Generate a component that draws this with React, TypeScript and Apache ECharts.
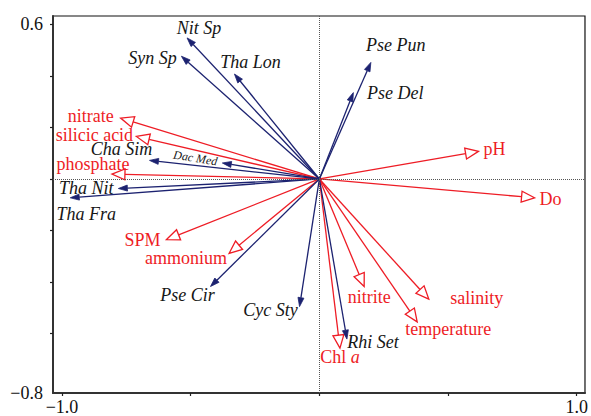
import React, { useEffect, useRef } from "react";
import * as echarts from "echarts";

// Species scores (RDA axis 1, axis 2)
const speciesNames = ["Nit Sp", "Syn Sp", "Tha Lon", "Pse Pun", "Pse Del", "Cha Sim", "Dac Med", "Tha Nit", "Tha Fra", "Pse Cir", "Cyc Sty", "Rhi Set"];
const speciesX = [-0.514, -0.536, -0.33, 0.2, 0.132, -0.66, -0.377, -0.781, -0.968, -0.423, -0.077, 0.107];
const speciesY = [0.547, 0.476, 0.407, 0.452, 0.335, 0.072, 0.062, -0.037, -0.073, -0.417, -0.495, -0.621];

// Environmental variable scores (RDA axis 1, axis 2)
const envNames = ["nitrate", "silicic acid", "phosphate", "pH", "Do", "SPM", "ammonium", "nitrite", "salinity", "temperature", "Chl a"];
const envX = [-0.772, -0.711, -0.806, 0.618, 0.836, -0.594, -0.351, 0.174, 0.425, 0.38, 0.08];
const envY = [0.236, 0.165, 0.019, 0.107, -0.073, -0.235, -0.289, -0.417, -0.466, -0.554, -0.656];

// Axis ticks
const xTicks = [-1, -0.5, 0, 0.5, 1];
const xTickLabels = [-1, 1];
const yTicks = [-0.6, -0.4, -0.2, 0, 0.2, 0.4, 0.6];
const X_MIN = -1.035;
const X_MAX = 1.032;
const Y_MIN = -0.83;
const Y_MAX = 0.632;

// Label placement: pixel offset of the label centre from the arrow tip
const speciesLabelOffset: Record<string, [number, number]> = {
  "Nit Sp": [12, -10],
  "Syn Sp": [-29, 2],
  "Tha Lon": [16, -12],
  "Pse Pun": [25, -17],
  "Pse Del": [42, 0],
  "Cha Sim": [-28, -11],
  "Dac Med": [-27, -5],
  "Tha Nit": [-32, -1],
  "Tha Fra": [16, 16],
  "Pse Cir": [-23, 8],
  "Cyc Sty": [-29, 3],
  "Rhi Set": [26, 3],
};
const envLabelOffset: Record<string, [number, number]> = {
  nitrate: [-30, -2],
  "silicic acid": [-42, -1],
  phosphate: [-19, -10],
  pH: [16, -2],
  Do: [16, 1],
  SPM: [-24, 0],
  ammonium: [-43, 5],
  nitrite: [5, 10],
  salinity: [48, -1],
  temperature: [31, 7],
  "Chl a": [0, 9],
};

const NAVY = "#1c2270";
const RED = "#ee1c25";
const FONT = "'Liberation Serif', 'Times New Roman', serif";

const fmt = (v: number) => (v < 0 ? "\u2212" : "") + Math.abs(v).toFixed(1);

function arrowItem(kind: "species" | "env") {
  const names = kind === "species" ? speciesNames : envNames;
  const offsets = kind === "species" ? speciesLabelOffset : envLabelOffset;
  return (params: any, api: any) => {
    const i = params.dataIndex;
    const name = names[i];
    const tip = api.coord([api.value(0), api.value(1)]);
    const o = api.coord([0, 0]);
    const dx = tip[0] - o[0];
    const dy = tip[1] - o[1];
    const len = Math.hypot(dx, dy) || 1;
    const ux = dx / len;
    const uy = dy / len;
    const nx = -uy;
    const ny = ux;
    const L = kind === "species" ? 9 : 13;
    const W = kind === "species" ? 3 : 5.5;
    const bx = tip[0] - ux * L;
    const by = tip[1] - uy * L;
    const color = kind === "species" ? NAVY : RED;
    const off = offsets[name] || [0, 0];

    const children: any[] = [
      {
        type: "line",
        shape: { x1: o[0], y1: o[1], x2: bx, y2: by },
        style: { stroke: color, lineWidth: 1.3 },
      },
      {
        type: "polygon",
        shape: {
          points: [
            [tip[0], tip[1]],
            [bx + nx * W, by + ny * W],
            [bx - nx * W, by - ny * W],
          ],
        },
        style:
          kind === "species"
            ? { fill: color, stroke: color, lineWidth: 0.8 }
            : { fill: "#ffffff", stroke: color, lineWidth: 1.3 },
      },
    ];

    const isDac = name === "Dac Med";
    const text = name === "Chl a" ? "Chl {i|a}" : name;
    children.push({
      type: "text",
      x: tip[0] + off[0],
      y: tip[1] + off[1],
      rotation: isDac ? -0.16 : 0,
      style: {
        text,
        fill: kind === "species" ? "#161616" : RED,
        fontFamily: FONT,
        fontSize: isDac ? 12 : 18,
        fontStyle: kind === "species" ? "italic" : "normal",
        align: "center",
        verticalAlign: "middle",
        rich: {
          i: { fontStyle: "italic", fontFamily: FONT, fontSize: 18, fill: RED },
        },
      },
    });

    return { type: "group", children };
  };
}

export default function App() {
  const ref = useRef<HTMLDivElement>(null);

  useEffect(() => {
    if (!ref.current) return;
    const chart = echarts.init(ref.current, null, { renderer: "svg" });

    const speciesData = speciesX.map((x, i) => [x, speciesY[i]]);
    const envData = envX.map((x, i) => [x, envY[i]]);

    chart.setOption({
      animation: false,
      backgroundColor: "#ffffff",
      grid: {
        left: 53,
        right: 2,
        top: 16,
        bottom: 22,
        show: true,
        borderColor: "#111111",
        borderWidth: 1.2,
        backgroundColor: "transparent",
      },
      xAxis: {
        type: "value",
        min: X_MIN,
        max: X_MAX,
        splitLine: { show: false },
        axisLine: { onZero: false, lineStyle: { color: "#333333", width: 2 } },
        axisTick: { show: true, customValues: xTicks, length: 3, lineStyle: { color: "#222222", width: 1.2 } },
        axisLabel: {
          customValues: xTickLabels,
          formatter: (v: number) => fmt(v),
          fontFamily: FONT,
          fontSize: 18,
          color: "#111111",
          margin: 5,
        },
      },
      yAxis: {
        type: "value",
        min: Y_MIN,
        max: Y_MAX,
        splitLine: { show: false },
        axisLine: { onZero: false, lineStyle: { color: "#333333", width: 2 } },
        axisTick: { show: true, customValues: yTicks, length: 3, lineStyle: { color: "#222222", width: 1.2 } },
        axisLabel: {
          customValues: [0.6, Y_MIN],
          formatter: (v: number) => fmt(v),
          fontFamily: FONT,
          fontSize: 18,
          color: "#111111",
          margin: 10,
        },
      },
      series: [
        {
          type: "custom",
          name: "environment",
          coordinateSystem: "cartesian2d",
          renderItem: arrowItem("env"),
          data: envData,
          silent: true,
          z: 3,
          markLine: {
            silent: true,
            symbol: ["none", "none"],
            label: { show: false },
            lineStyle: { color: "#555555", width: 1, type: [1, 1] },
            data: [{ xAxis: 0 }, { yAxis: 0 }],
          },
        },
        {
          type: "custom",
          name: "species",
          coordinateSystem: "cartesian2d",
          renderItem: arrowItem("species"),
          data: speciesData,
          silent: true,
          z: 4,
        },
      ],
    });

    return () => chart.dispose();
  }, []);

  return (
    <div
      ref={ref}
      style={{ position: "fixed", left: 0, top: 0, width: 591, height: 416, background: "#fff" }}
    />
  );
}
